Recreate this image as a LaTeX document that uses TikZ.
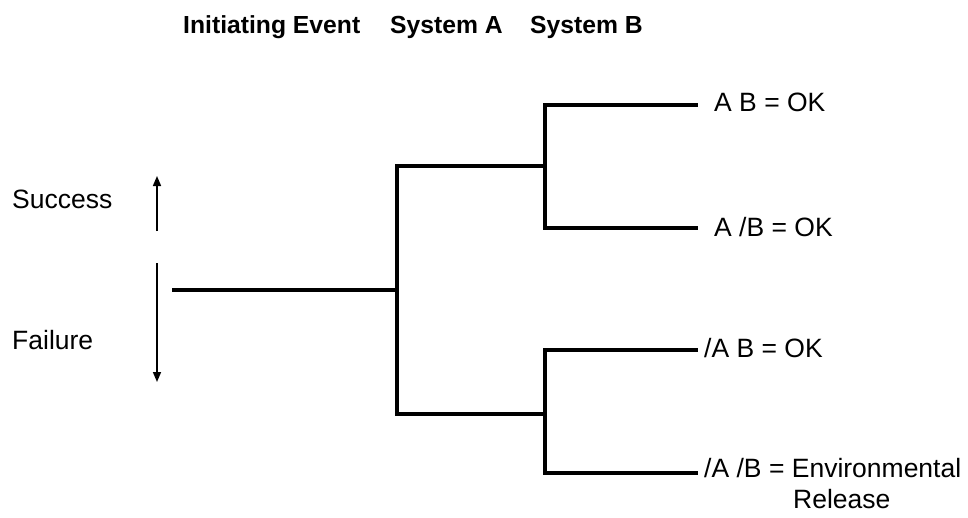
\documentclass[tikz,border=0pt]{standalone}
\usepackage{fontspec}
\setmainfont{Liberation Sans}
\usetikzlibrary{arrows.meta}
\tikzset{
  branch/.style={line width=3.2pt, line cap=rect},
  lbl/.style={inner sep=0pt, anchor=base west, font=\fontsize{26.5}{32}\selectfont},
  head/.style={inner sep=0pt, anchor=base west, font=\fontsize{24.7}{30}\selectfont\bfseries},
  dirarrow/.style={line width=1.6pt, -{Triangle[length=10pt,width=8pt]}}
}
\begin{document}
\begin{tikzpicture}[x=1pt,y=-1pt]
\useasboundingbox (0,0) rectangle (968,517);
% headings
\node[head] (hIE) at (183,33) {Initiating Event};
\node[head] (hA) at (390,33) {System A};
\node[head] (hB) at (530,33) {System B};
% side labels
\node[lbl] (succ) at (12,208) {Success};
\node[lbl] (fail) at (12,349) {Failure};
\coordinate (su0) at (157,231);
\coordinate (su1) at (157,176);
\coordinate (fa0) at (157,263);
\coordinate (fa1) at (157,382);
\draw[dirarrow] (su0) -- (su1);
\draw[dirarrow] (fa0) -- (fa1);
% tree
\coordinate (ie) at (174,290);
\coordinate (aj) at (397,290);
\coordinate (aT) at (397,166);
\coordinate (aB) at (397,414);
\coordinate (bT) at (545,166);
\coordinate (bB) at (545,414);
\coordinate (b1) at (545,105);
\coordinate (b2) at (545,228);
\coordinate (b3) at (545,350);
\coordinate (b4) at (545,473);
\coordinate (e1) at (696,105);
\coordinate (e2) at (696,228);
\coordinate (e3) at (696,350);
\coordinate (e4) at (696,473);
\draw[branch] (ie) -- (aj);
\draw[branch] (bT) -- (aT) -- (aB) -- (bB);
\draw[branch] (e1) -- (b1) -- (b2) -- (e2);
\draw[branch] (e3) -- (b3) -- (b4) -- (e4);
% outcomes
\node[lbl] (o1) at (714,111) {A B = OK};
\node[lbl] (o2) at (714,236) {A /B = OK};
\node[lbl] (o3) at (704,357) {/A B = OK};
\node[lbl] (o4) at (704,477) {/A /B = Environmental};
\node[lbl] (o4b) at (793,508) {Release};
\end{tikzpicture}
\end{document}
